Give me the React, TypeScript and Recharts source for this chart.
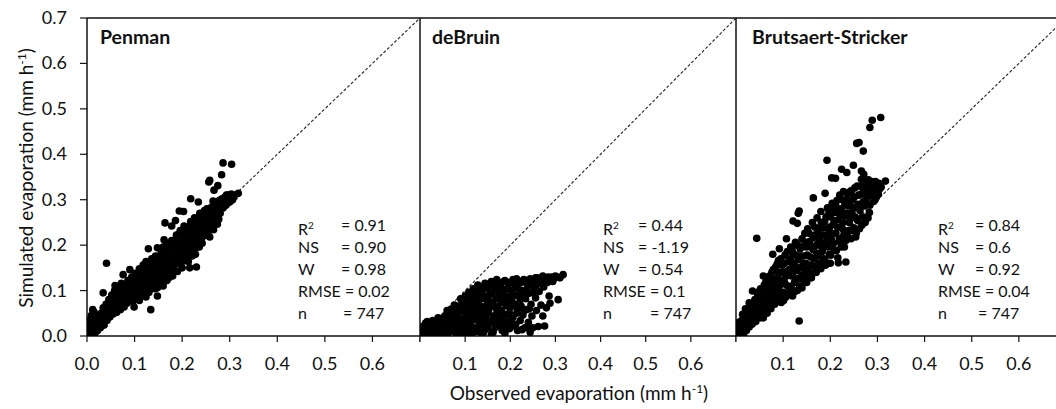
import React from 'react';
import { ScatterChart, Scatter, XAxis, YAxis, ReferenceLine } from 'recharts';

// observed vs simulated hourly evaporation (mm h-1), one [obs, sim] pair per point
const penman: [number, number][] = [
  [0.002, 0.004], [0.004, 0.012], [0.006, 0.002], [0.008, 0.020], [0.010, 0.008], [0.012, 0.030], [0.005, 0.026],
  [0.014, 0.016], [0.016, 0.005], [0.018, 0.038], [0.020, 0.024], [0.022, 0.012], [0.009, 0.045], [0.015, 0.052],
  [0.024, 0.044], [0.026, 0.030], [0.028, 0.018], [0.030, 0.050], [0.003, 0.034], [0.012, 0.058],
  [0.032, 0.036], [0.034, 0.062], [0.036, 0.024], [0.038, 0.048], [0.040, 0.070], [0.041, 0.160], [0.042, 0.034],
  [0.044, 0.056], [0.046, 0.080], [0.048, 0.042], [0.050, 0.066], [0.052, 0.090], [0.054, 0.048], [0.056, 0.074],
  [0.058, 0.100], [0.058, 0.058], [0.034, 0.095],
  [0.060, 0.084], [0.062, 0.052], [0.064, 0.108], [0.066, 0.068], [0.068, 0.092], [0.070, 0.058], [0.072, 0.116],
  [0.074, 0.078], [0.076, 0.135], [0.076, 0.100], [0.078, 0.064], [0.080, 0.088], [0.082, 0.110], [0.084, 0.072],
  [0.086, 0.122], [0.088, 0.096], [0.059, 0.111], [0.090, 0.146], [0.090, 0.080],
  [0.092, 0.104], [0.094, 0.130], [0.096, 0.076], [0.098, 0.116], [0.099, 0.064], [0.100, 0.092], [0.102, 0.138],
  [0.104, 0.084], [0.106, 0.122], [0.108, 0.100], [0.110, 0.148], [0.110, 0.078], [0.112, 0.112], [0.114, 0.132],
  [0.116, 0.090], [0.118, 0.156], [0.118, 0.120], [0.120, 0.102],
  [0.122, 0.140], [0.124, 0.086], [0.124, 0.164], [0.126, 0.112], [0.128, 0.128], [0.129, 0.192], [0.130, 0.096],
  [0.132, 0.150], [0.134, 0.058], [0.134, 0.118], [0.136, 0.170], [0.136, 0.104], [0.138, 0.136], [0.140, 0.158],
  [0.142, 0.112], [0.144, 0.176], [0.144, 0.126], [0.146, 0.146], [0.148, 0.088], [0.148, 0.194], [0.148, 0.106],
  [0.150, 0.134],
  [0.152, 0.164], [0.154, 0.118], [0.156, 0.182], [0.157, 0.146], [0.158, 0.128], [0.160, 0.196], [0.160, 0.110],
  [0.162, 0.212], [0.162, 0.156], [0.164, 0.249], [0.164, 0.134], [0.166, 0.174], [0.168, 0.122], [0.168, 0.204],
  [0.170, 0.148], [0.172, 0.188], [0.172, 0.128], [0.174, 0.164], [0.176, 0.140], [0.178, 0.242], [0.178, 0.210],
  [0.180, 0.176], [0.180, 0.132],
  [0.182, 0.152], [0.184, 0.196], [0.186, 0.254], [0.186, 0.164], [0.188, 0.222], [0.190, 0.142], [0.190, 0.186],
  [0.192, 0.206], [0.194, 0.275], [0.194, 0.160], [0.196, 0.232], [0.198, 0.176], [0.200, 0.150], [0.200, 0.214],
  [0.202, 0.190], [0.203, 0.274], [0.204, 0.242], [0.206, 0.166], [0.208, 0.224], [0.210, 0.200],
  [0.212, 0.176], [0.214, 0.236], [0.216, 0.150], [0.216, 0.212], [0.218, 0.302], [0.218, 0.252], [0.220, 0.188],
  [0.222, 0.228], [0.224, 0.204], [0.226, 0.260], [0.228, 0.180], [0.230, 0.152], [0.230, 0.240], [0.232, 0.216],
  [0.234, 0.295], [0.234, 0.262], [0.236, 0.196], [0.238, 0.248], [0.240, 0.226],
  [0.242, 0.204], [0.244, 0.268], [0.246, 0.242], [0.248, 0.222], [0.250, 0.258], [0.252, 0.280], [0.254, 0.236],
  [0.256, 0.339], [0.256, 0.264], [0.258, 0.343], [0.258, 0.218], [0.260, 0.250], [0.262, 0.284], [0.264, 0.266],
  [0.265, 0.297], [0.266, 0.234], [0.267, 0.321], [0.268, 0.276], [0.270, 0.258],
  [0.272, 0.290], [0.274, 0.246], [0.275, 0.331], [0.276, 0.280], [0.277, 0.257], [0.278, 0.298], [0.280, 0.270],
  [0.282, 0.292], [0.283, 0.355], [0.284, 0.302], [0.286, 0.381], [0.286, 0.282], [0.288, 0.296], [0.290, 0.306],
  [0.292, 0.288], [0.294, 0.300], [0.296, 0.310], [0.298, 0.294], [0.300, 0.304], [0.302, 0.312], [0.304, 0.378],
  [0.306, 0.300], [0.318, 0.314],
  [0.011, 0.018], [0.019, 0.010], [0.023, 0.034], [0.027, 0.042], [0.031, 0.026], [0.033, 0.048], [0.037, 0.038],
  [0.039, 0.058], [0.043, 0.046], [0.047, 0.064], [0.049, 0.054], [0.051, 0.076], [0.053, 0.060], [0.055, 0.084],
  [0.057, 0.068], [0.061, 0.074], [0.063, 0.090], [0.065, 0.080], [0.067, 0.100], [0.069, 0.070], [0.071, 0.088],
  [0.073, 0.098], [0.075, 0.084], [0.077, 0.112], [0.079, 0.094], [0.081, 0.078], [0.083, 0.100], [0.085, 0.090],
  [0.087, 0.110], [0.089, 0.086], [0.091, 0.118], [0.093, 0.094], [0.095, 0.108], [0.097, 0.124], [0.099, 0.100],
  [0.101, 0.114], [0.103, 0.106], [0.105, 0.130], [0.107, 0.092], [0.109, 0.124], [0.111, 0.098], [0.113, 0.140],
  [0.115, 0.110], [0.117, 0.128], [0.119, 0.094], [0.121, 0.118], [0.123, 0.150], [0.125, 0.130], [0.127, 0.104],
  [0.129, 0.158], [0.131, 0.122], [0.133, 0.138], [0.135, 0.112], [0.137, 0.154], [0.139, 0.124], [0.141, 0.142],
  [0.143, 0.104], [0.145, 0.164], [0.147, 0.136], [0.149, 0.118], [0.151, 0.150], [0.153, 0.176], [0.155, 0.132],
  [0.157, 0.164], [0.159, 0.142], [0.161, 0.180], [0.163, 0.122], [0.165, 0.158], [0.167, 0.190], [0.169, 0.138],
  [0.171, 0.168], [0.173, 0.150], [0.175, 0.198], [0.177, 0.156], [0.179, 0.186], [0.181, 0.164], [0.183, 0.210],
  [0.185, 0.144], [0.187, 0.180], [0.189, 0.200], [0.191, 0.168], [0.193, 0.224], [0.195, 0.190], [0.197, 0.158],
  [0.199, 0.200], [0.201, 0.230], [0.203, 0.176], [0.205, 0.208], [0.207, 0.188], [0.209, 0.238], [0.211, 0.214],
  [0.213, 0.164], [0.215, 0.196], [0.217, 0.244], [0.219, 0.222], [0.221, 0.176], [0.223, 0.250], [0.225, 0.210],
  [0.227, 0.236], [0.229, 0.194], [0.231, 0.256], [0.233, 0.230], [0.235, 0.208], [0.237, 0.270], [0.239, 0.240],
  [0.241, 0.214], [0.243, 0.252], [0.245, 0.228], [0.247, 0.276], [0.249, 0.246], [0.251, 0.222], [0.253, 0.268],
  [0.255, 0.250], [0.257, 0.232], [0.259, 0.276], [0.261, 0.262], [0.263, 0.244], [0.269, 0.290], [0.271, 0.270],
  [0.273, 0.284], [0.279, 0.286], [0.281, 0.300], [0.285, 0.292], [0.289, 0.288], [0.293, 0.310], [0.297, 0.300],
  [0.301, 0.296], [0.305, 0.312], [0.309, 0.306],
];

const deBruin: [number, number][] = [
  [0.002, 0.004], [0.006, 0.012], [0.010, 0.002], [0.014, 0.018], [0.018, 0.008], [0.022, 0.026], [0.026, 0.004],
  [0.030, 0.016], [0.034, 0.030], [0.038, 0.008], [0.042, 0.022], [0.046, 0.036], [0.050, 0.012], [0.054, 0.028],
  [0.058, 0.046], [0.062, 0.004], [0.064, 0.020], [0.068, 0.038], [0.072, 0.056], [0.076, 0.010], [0.078, 0.030],
  [0.082, 0.046], [0.086, 0.066], [0.088, 0.018], [0.090, 0.004], [0.092, 0.036], [0.094, 0.078], [0.096, 0.054],
  [0.098, 0.024], [0.004, 0.020], [0.012, 0.028], [0.020, 0.014], [0.028, 0.034], [0.036, 0.018], [0.044, 0.006],
  [0.052, 0.040], [0.060, 0.030], [0.066, 0.012], [0.074, 0.044], [0.080, 0.006], [0.084, 0.026], [0.070, 0.024],
  [0.040, 0.040], [0.016, 0.032], [0.060, 0.056], [0.076, 0.068], [0.090, 0.082],
  [0.100, 0.088], [0.102, 0.012], [0.104, 0.064], [0.106, 0.032], [0.108, 0.096], [0.110, 0.048], [0.112, 0.004],
  [0.114, 0.076], [0.116, 0.020], [0.118, 0.104], [0.120, 0.058], [0.122, 0.036], [0.124, 0.088], [0.126, 0.010],
  [0.128, 0.112], [0.130, 0.070], [0.132, 0.046], [0.134, 0.026], [0.136, 0.098], [0.138, 0.060], [0.140, 0.006],
  [0.142, 0.082], [0.144, 0.116], [0.146, 0.038], [0.148, 0.068], [0.150, 0.018], [0.150, 0.104],
  [0.152, 0.052], [0.154, 0.090], [0.156, 0.030], [0.158, 0.120], [0.160, 0.074], [0.162, 0.008], [0.164, 0.044],
  [0.166, 0.100], [0.168, 0.062], [0.170, 0.124], [0.172, 0.022], [0.174, 0.084], [0.176, 0.040], [0.178, 0.110],
  [0.180, 0.056], [0.182, 0.012], [0.184, 0.094], [0.186, 0.072], [0.188, 0.122], [0.190, 0.030], [0.192, 0.048],
  [0.194, 0.104], [0.196, 0.080], [0.198, 0.016], [0.200, 0.062], [0.200, 0.118],
  [0.202, 0.036], [0.204, 0.092], [0.206, 0.124], [0.208, 0.022], [0.210, 0.070], [0.212, 0.110], [0.214, 0.050],
  [0.216, 0.012], [0.218, 0.088], [0.220, 0.120], [0.222, 0.034], [0.224, 0.066], [0.226, 0.100], [0.228, 0.046],
  [0.230, 0.124], [0.232, 0.018], [0.234, 0.082], [0.236, 0.058], [0.238, 0.112], [0.240, 0.030], [0.242, 0.094],
  [0.244, 0.126], [0.246, 0.070], [0.248, 0.044], [0.250, 0.018],
  [0.252, 0.108], [0.254, 0.122], [0.256, 0.084], [0.258, 0.056], [0.260, 0.128], [0.262, 0.021], [0.264, 0.098],
  [0.266, 0.116], [0.268, 0.068], [0.270, 0.126], [0.272, 0.044], [0.274, 0.108], [0.276, 0.022], [0.278, 0.124],
  [0.280, 0.062], [0.282, 0.118], [0.284, 0.130], [0.286, 0.088], [0.288, 0.072], [0.290, 0.122], [0.292, 0.130],
  [0.296, 0.126], [0.300, 0.132], [0.306, 0.080], [0.310, 0.128], [0.317, 0.135],
  [0.106, 0.018], [0.118, 0.008], [0.130, 0.022], [0.144, 0.014], [0.158, 0.004], [0.168, 0.030], [0.180, 0.024],
  [0.188, 0.006], [0.196, 0.032], [0.212, 0.026], [0.226, 0.014], [0.238, 0.020], [0.244, 0.008],
  [0.008, 0.016], [0.016, 0.022], [0.024, 0.012], [0.032, 0.004], [0.040, 0.026], [0.048, 0.020], [0.056, 0.008],
  [0.056, 0.036], [0.064, 0.046], [0.068, 0.058], [0.072, 0.034], [0.078, 0.050], [0.080, 0.018], [0.086, 0.040],
  [0.088, 0.056], [0.092, 0.012], [0.096, 0.068], [0.100, 0.040], [0.102, 0.076], [0.104, 0.024], [0.108, 0.060],
  [0.110, 0.086], [0.112, 0.034], [0.116, 0.052], [0.118, 0.068], [0.120, 0.090], [0.122, 0.014], [0.124, 0.044],
  [0.126, 0.078], [0.128, 0.056], [0.130, 0.098], [0.132, 0.030], [0.134, 0.066], [0.136, 0.084], [0.138, 0.040],
  [0.140, 0.106], [0.142, 0.054], [0.144, 0.024], [0.146, 0.088], [0.148, 0.046], [0.152, 0.076], [0.154, 0.112],
  [0.156, 0.064], [0.160, 0.094], [0.162, 0.036], [0.164, 0.110], [0.166, 0.018], [0.168, 0.082], [0.170, 0.050],
  [0.172, 0.066], [0.174, 0.118], [0.176, 0.096], [0.178, 0.032], [0.180, 0.078], [0.182, 0.104], [0.184, 0.044],
  [0.186, 0.120], [0.190, 0.088], [0.192, 0.066], [0.194, 0.022], [0.196, 0.114], [0.198, 0.050], [0.202, 0.100],
  [0.204, 0.076], [0.206, 0.042], [0.208, 0.116], [0.210, 0.090], [0.214, 0.126], [0.216, 0.060], [0.218, 0.104],
  [0.222, 0.080], [0.224, 0.118], [0.228, 0.094], [0.230, 0.056], [0.234, 0.122], [0.236, 0.102], [0.240, 0.116],
  [0.242, 0.060], [0.248, 0.120], [0.250, 0.096], [0.256, 0.128], [0.258, 0.112], [0.262, 0.124], [0.268, 0.120],
  [0.272, 0.132], [0.276, 0.118], [0.280, 0.128], [0.288, 0.126], [0.294, 0.120], [0.298, 0.128], [0.304, 0.130],
  [0.014, 0.006], [0.030, 0.010], [0.046, 0.014], [0.062, 0.016], [0.086, 0.008], [0.100, 0.006], [0.134, 0.008],
  [0.150, 0.030],
];

const brutsaert: [number, number][] = [
  [0.002, 0.002], [0.004, 0.014], [0.006, 0.006], [0.008, 0.024], [0.010, 0.010], [0.012, 0.034], [0.014, 0.018],
  [0.016, 0.004], [0.018, 0.042], [0.020, 0.026], [0.022, 0.012], [0.024, 0.050], [0.026, 0.034], [0.028, 0.020],
  [0.028, 0.073], [0.030, 0.058], [0.006, 0.030], [0.014, 0.048], [0.020, 0.060],
  [0.032, 0.040], [0.034, 0.026], [0.035, 0.099], [0.036, 0.066], [0.038, 0.048], [0.040, 0.080], [0.042, 0.032],
  [0.044, 0.215], [0.044, 0.060], [0.046, 0.092], [0.048, 0.044], [0.050, 0.074], [0.052, 0.104], [0.054, 0.056],
  [0.056, 0.086], [0.058, 0.132], [0.058, 0.040], [0.060, 0.112],
  [0.062, 0.068], [0.064, 0.096], [0.066, 0.050], [0.068, 0.124], [0.070, 0.080], [0.072, 0.106], [0.074, 0.060],
  [0.076, 0.140], [0.078, 0.180], [0.078, 0.092], [0.080, 0.118], [0.082, 0.070], [0.084, 0.152], [0.086, 0.100],
  [0.088, 0.128], [0.090, 0.082], [0.090, 0.166],
  [0.092, 0.192], [0.092, 0.110], [0.094, 0.140], [0.096, 0.074], [0.098, 0.156], [0.100, 0.096], [0.102, 0.124],
  [0.104, 0.178], [0.106, 0.086], [0.107, 0.214], [0.108, 0.142], [0.110, 0.110], [0.112, 0.164], [0.114, 0.098],
  [0.116, 0.196], [0.118, 0.132], [0.120, 0.154], [0.120, 0.088],
  [0.121, 0.253], [0.122, 0.180], [0.124, 0.118], [0.126, 0.206], [0.128, 0.144], [0.130, 0.248], [0.130, 0.100],
  [0.132, 0.270], [0.132, 0.168], [0.134, 0.033], [0.134, 0.126], [0.134, 0.275], [0.136, 0.192], [0.138, 0.150],
  [0.140, 0.214], [0.140, 0.106], [0.142, 0.176], [0.144, 0.132], [0.146, 0.226], [0.148, 0.160], [0.150, 0.118],
  [0.150, 0.196],
  [0.152, 0.236], [0.154, 0.142], [0.156, 0.208], [0.158, 0.174], [0.160, 0.128], [0.162, 0.250], [0.164, 0.304],
  [0.164, 0.190], [0.166, 0.154], [0.168, 0.222], [0.170, 0.140], [0.172, 0.260], [0.172, 0.182], [0.174, 0.204],
  [0.176, 0.160], [0.178, 0.238], [0.180, 0.148], [0.180, 0.274],
  [0.182, 0.196], [0.184, 0.222], [0.186, 0.170], [0.188, 0.252], [0.189, 0.314], [0.190, 0.156], [0.192, 0.208],
  [0.193, 0.387], [0.194, 0.282], [0.196, 0.236], [0.198, 0.180], [0.200, 0.262], [0.200, 0.160], [0.202, 0.214],
  [0.203, 0.348], [0.204, 0.292], [0.206, 0.246], [0.208, 0.190], [0.210, 0.272], [0.211, 0.347],
  [0.212, 0.226], [0.214, 0.298], [0.216, 0.172], [0.217, 0.161], [0.218, 0.256], [0.220, 0.310], [0.222, 0.206],
  [0.224, 0.367], [0.224, 0.280], [0.226, 0.236], [0.228, 0.318], [0.230, 0.196], [0.232, 0.264], [0.233, 0.163],
  [0.234, 0.300], [0.235, 0.360], [0.236, 0.222], [0.238, 0.286], [0.240, 0.250],
  [0.242, 0.318], [0.244, 0.214], [0.246, 0.272], [0.248, 0.300], [0.249, 0.376], [0.250, 0.238], [0.252, 0.326],
  [0.254, 0.218], [0.256, 0.424], [0.256, 0.284], [0.258, 0.254], [0.260, 0.310], [0.261, 0.426], [0.262, 0.236],
  [0.264, 0.330], [0.266, 0.345], [0.266, 0.363], [0.268, 0.262], [0.270, 0.407], [0.270, 0.296],
  [0.271, 0.356], [0.272, 0.318], [0.274, 0.250], [0.276, 0.300], [0.278, 0.336], [0.280, 0.260], [0.282, 0.322],
  [0.284, 0.459], [0.284, 0.288], [0.286, 0.330], [0.288, 0.308], [0.289, 0.475], [0.290, 0.334], [0.291, 0.337],
  [0.292, 0.296], [0.294, 0.318], [0.296, 0.340], [0.298, 0.306], [0.300, 0.326], [0.302, 0.312], [0.307, 0.481],
  [0.308, 0.328], [0.317, 0.341],
  [0.009, 0.016], [0.013, 0.026], [0.017, 0.012], [0.021, 0.040], [0.025, 0.024], [0.027, 0.048], [0.031, 0.034],
  [0.033, 0.060], [0.037, 0.030], [0.039, 0.058], [0.041, 0.072], [0.043, 0.046], [0.045, 0.084], [0.047, 0.056],
  [0.049, 0.098], [0.051, 0.040], [0.053, 0.078], [0.055, 0.064], [0.057, 0.104], [0.059, 0.084], [0.061, 0.054],
  [0.063, 0.118], [0.065, 0.080], [0.067, 0.100], [0.069, 0.064], [0.071, 0.132], [0.073, 0.090], [0.075, 0.114],
  [0.077, 0.076], [0.079, 0.146], [0.081, 0.100], [0.083, 0.124], [0.085, 0.084], [0.087, 0.158], [0.089, 0.108],
  [0.091, 0.138], [0.093, 0.090], [0.095, 0.170], [0.097, 0.120], [0.099, 0.140], [0.101, 0.078], [0.103, 0.160],
  [0.105, 0.114], [0.107, 0.132], [0.109, 0.186], [0.111, 0.094], [0.113, 0.146], [0.115, 0.170], [0.117, 0.108],
  [0.119, 0.190], [0.121, 0.140], [0.123, 0.160], [0.125, 0.098], [0.127, 0.178], [0.129, 0.126], [0.131, 0.200],
  [0.133, 0.150], [0.135, 0.110], [0.137, 0.176], [0.139, 0.134], [0.141, 0.196], [0.143, 0.160], [0.145, 0.118],
  [0.147, 0.206], [0.149, 0.144], [0.151, 0.178], [0.153, 0.130], [0.155, 0.226], [0.157, 0.156], [0.159, 0.196],
  [0.161, 0.138], [0.163, 0.216], [0.165, 0.170], [0.167, 0.240], [0.169, 0.150], [0.171, 0.200], [0.173, 0.230],
  [0.175, 0.176], [0.177, 0.214], [0.179, 0.160], [0.181, 0.250], [0.183, 0.186], [0.185, 0.238], [0.187, 0.204],
  [0.189, 0.166], [0.191, 0.262], [0.193, 0.222], [0.195, 0.196], [0.197, 0.270], [0.199, 0.240], [0.201, 0.178],
  [0.203, 0.226], [0.205, 0.276], [0.207, 0.204], [0.209, 0.254], [0.211, 0.290], [0.213, 0.188], [0.215, 0.240],
  [0.217, 0.280], [0.219, 0.214], [0.221, 0.266], [0.223, 0.196], [0.225, 0.300], [0.227, 0.250], [0.229, 0.224],
  [0.231, 0.290], [0.233, 0.210], [0.235, 0.270], [0.237, 0.312], [0.239, 0.232], [0.241, 0.292], [0.243, 0.258],
  [0.245, 0.320], [0.247, 0.232], [0.249, 0.282], [0.251, 0.306], [0.253, 0.262], [0.255, 0.226], [0.257, 0.330],
  [0.259, 0.290], [0.263, 0.276], [0.265, 0.312], [0.267, 0.244], [0.269, 0.326], [0.273, 0.286], [0.275, 0.332],
  [0.277, 0.262], [0.279, 0.310], [0.281, 0.344], [0.283, 0.272], [0.285, 0.316], [0.287, 0.340], [0.293, 0.326],
  [0.295, 0.300], [0.297, 0.330], [0.299, 0.314], [0.303, 0.336], [0.305, 0.324],
];

// 1:1 line end points
const oneToOne = [0, 0.7];
const axisTicks = [0, 0.1, 0.2, 0.3, 0.4, 0.5, 0.6, 0.7];

const penmanStats = ['0.91', '0.90', '0.98', '0.02', '747'];
const deBruinStats = ['0.44', '-1.19', '0.54', '0.1', '747'];
const brutsaertStats = ['0.84', '0.6', '0.92', '0.04', '747'];

const FONT = 'Lato, "Open Sans", sans-serif';
const INK = '#111';

const toPoints = (pairs: [number, number][]) => pairs.map(([x, y]) => ({ x, y }));
const diagonal = oneToOne.map((v) => ({ x: v, y: v }));

const Dot = (p: any) => <circle cx={p.cx} cy={p.cy} r={3.8} fill="#000" />;
const NoDot = () => <g />;

const XTick = ({ x, y, payload, showZero }: any) => {
  const v = payload.value;
  if (v >= 0.7 || (v === 0 && !showZero)) return <g />;
  return (
    <text x={x} y={y} dy={26} textAnchor="middle" fill={INK} fontSize={18} fontFamily={FONT}>
      {v.toFixed(1)}
    </text>
  );
};

const YTick = ({ x, y, payload }: any) => (
  <text x={x} y={y} dy={6} textAnchor="end" fill={INK} fontSize={18} fontFamily={FONT}>
    {payload.value.toFixed(1)}
  </text>
);

type PanelProps = {
  title: string;
  pairs: [number, number][];
  stats: string[];
  left: number;
  yAxisWidth: number;
  plotWidth: number;
  first: boolean;
  titleX: number;
  labelX: number;
  valueX: number[];
};

const rowY = [225, 247, 269, 291, 313];
const rowLabels = ['R', 'NS', 'W', 'RMSE', 'n'];

const Panel = ({ title, pairs, stats, left, yAxisWidth, plotWidth, first, titleX, labelX, valueX }: PanelProps) => (
  <>
    <div style={{ position: 'absolute', left, top: 0 }}>
      <ScatterChart
        width={yAxisWidth + plotWidth}
        height={409}
        margin={{ top: 18, right: 0, bottom: 33, left: 0 }}
      >
        <XAxis
          type="number"
          dataKey="x"
          domain={[0, 0.7]}
          ticks={axisTicks}
          allowDataOverflow
          height={40}
          tickSize={6}
          axisLine={{ stroke: INK, strokeWidth: 1.5 }}
          tickLine={{ stroke: INK, strokeWidth: 1.2 }}
          tick={(p: any) => <XTick {...p} showZero={first} />}
        />
        <YAxis
          type="number"
          dataKey="y"
          domain={[0, 0.7]}
          ticks={axisTicks}
          allowDataOverflow
          width={yAxisWidth}
          tickSize={7}
          tickMargin={13}
          axisLine={{ stroke: INK, strokeWidth: 1.5 }}
          tickLine={{ stroke: INK, strokeWidth: 1.2 }}
          tick={first ? (p: any) => <YTick {...p} /> : false}
        />
        <ReferenceLine y={0.7} stroke={INK} strokeWidth={1.5} />
        <Scatter
          data={diagonal}
          line={{ stroke: '#222', strokeWidth: 1.1, strokeDasharray: '3 2' }}
          shape={NoDot}
          isAnimationActive={false}
        />
        <Scatter data={toPoints(pairs)} shape={Dot} isAnimationActive={false} />
      </ScatterChart>
    </div>
    <div
      style={{
        position: 'absolute', left: titleX, top: 25, height: 24, lineHeight: '24px',
        fontWeight: 700, fontSize: 19.5, whiteSpace: 'nowrap',
      }}
    >
      {title}
    </div>
    {rowLabels.map((lab, i) => (
      <React.Fragment key={lab}>
        <div style={{ position: 'absolute', left: labelX, top: rowY[i] - 11, lineHeight: '22px', fontSize: 16, whiteSpace: 'nowrap' }}>
          {lab === 'R' ? <>R<sup style={{ fontSize: 10, verticalAlign: 6 }}>2</sup></> : lab === 'RMSE' ? `RMSE = ${stats[i]}` : lab}
        </div>
        {lab !== 'RMSE' && (
          <div style={{ position: 'absolute', left: valueX[i], top: rowY[i] - 11, lineHeight: '22px', fontSize: 16, whiteSpace: 'nowrap' }}>
            = {stats[i]}
          </div>
        )}
      </React.Fragment>
    ))}
  </>
);

export default function App() {
  return (
    <div
      style={{
        position: 'absolute', left: 0, top: 0, width: 1056, height: 409,
        overflow: 'hidden', background: '#fff', fontFamily: FONT, color: INK,
      }}
    >
      <Panel
        title="Penman" pairs={penman} stats={penmanStats}
        left={0} yAxisWidth={87} plotWidth={333} first
        titleX={100} labelX={298} valueX={[341, 341, 341, 0, 343]}
      />
      <Panel
        title="deBruin" pairs={deBruin} stats={deBruinStats}
        left={410} yAxisWidth={10} plotWidth={316} first={false}
        titleX={432} labelX={603} valueX={[638, 638, 638, 0, 650]}
      />
      <Panel
        title="Brutsaert-Stricker" pairs={brutsaert} stats={brutsaertStats}
        left={726} yAxisWidth={10} plotWidth={330} first={false}
        titleX={752} labelX={938} valueX={[975, 975, 975, 0, 978]}
      />
      <div
        style={{
          position: 'absolute', left: -128, top: 166, width: 300, height: 24, lineHeight: '24px',
          textAlign: 'center', fontSize: 19, transform: 'rotate(-90deg)', whiteSpace: 'nowrap',
        }}
      >
        Simulated evaporation (mm h<sup style={{ fontSize: 12, verticalAlign: 7 }}>-1</sup>)
      </div>
      <div
        style={{
          position: 'absolute', left: 379, top: 377, width: 400, height: 24, lineHeight: '24px',
          textAlign: 'center', fontSize: 19, whiteSpace: 'nowrap',
        }}
      >
        Observed evaporation (mm h<sup style={{ fontSize: 12, verticalAlign: 7 }}>-1</sup>)
      </div>
    </div>
  );
}
